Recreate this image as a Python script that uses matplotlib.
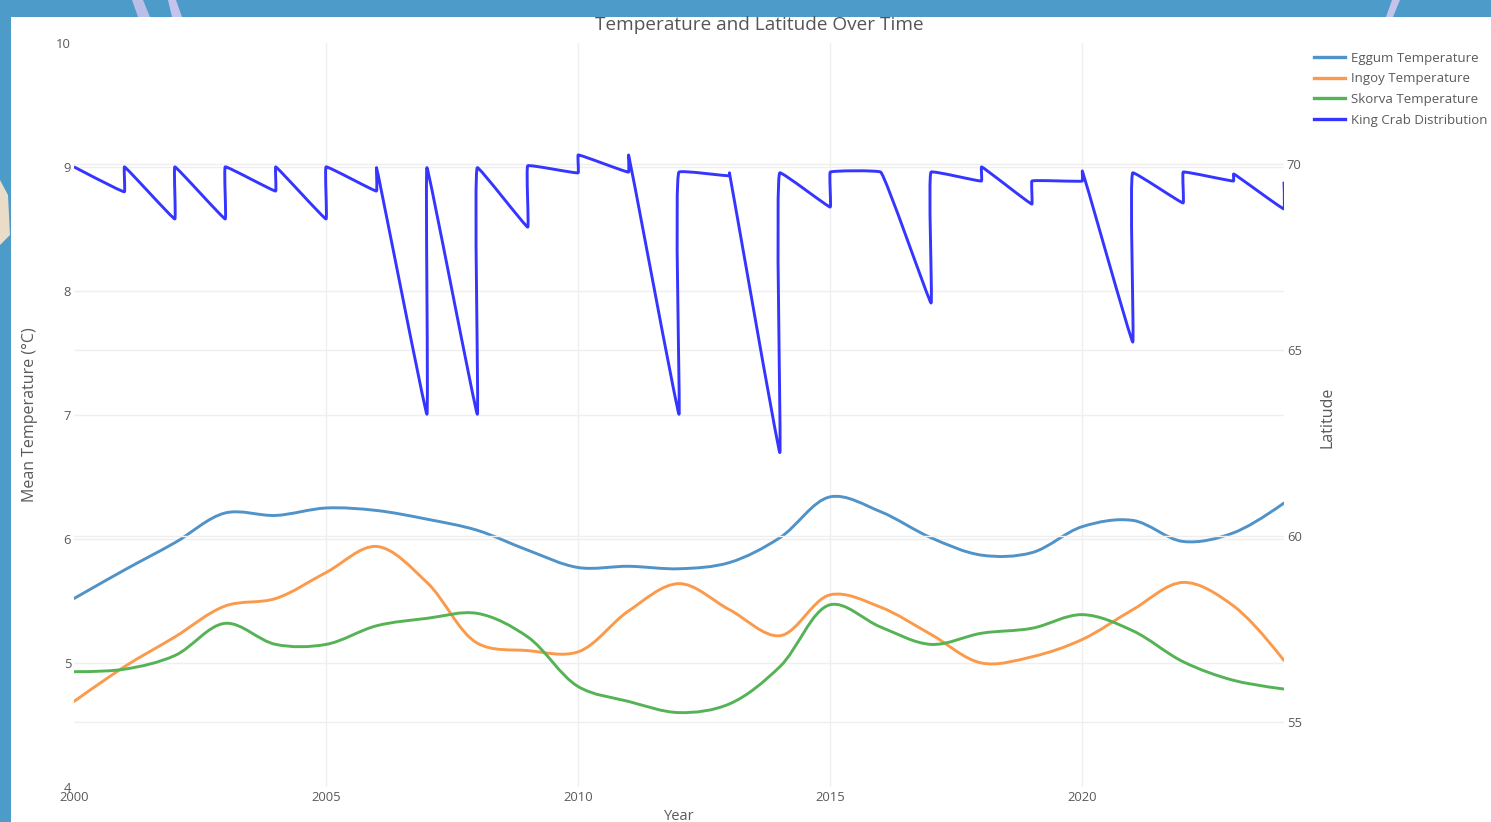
import matplotlib
matplotlib.use("Agg")
import matplotlib.pyplot as plt
import numpy as np
from matplotlib.path import Path
from matplotlib.patches import PathPatch, Rectangle, Polygon
from matplotlib.lines import Line2D

# ---- data ----
years = list(range(2000, 2025))

eggum_temp = [5.52, 5.75, 5.97, 6.21, 6.19, 6.25, 6.23, 6.16, 6.07, 5.91, 5.77, 5.78, 5.76,
              5.81, 6.01, 6.34, 6.22, 6.01, 5.87, 5.89, 6.10, 6.15, 5.98, 6.05, 6.29]
ingoy_temp = [4.69, 4.97, 5.21, 5.46, 5.52, 5.73, 5.94, 5.65, 5.16, 5.10, 5.09, 5.42, 5.64,
              5.43, 5.22, 5.55, 5.45, 5.23, 5.00, 5.05, 5.19, 5.43, 5.65, 5.46, 5.02]
skorva_temp = [4.93, 4.95, 5.06, 5.32, 5.15, 5.15, 5.30, 5.36, 5.40, 5.21, 4.81, 4.69, 4.60,
               4.67, 4.97, 5.47, 5.29, 5.15, 5.24, 5.28, 5.39, 5.26, 5.01, 4.86, 4.79]

crab_years = [2000, 2001, 2001, 2002, 2002, 2003, 2003, 2004, 2004, 2005, 2005, 2006, 2006,
              2007, 2007, 2008, 2008, 2009, 2009, 2010, 2010, 2011, 2011, 2012, 2012, 2013,
              2013, 2014, 2014, 2015, 2015, 2016, 2017, 2017, 2018, 2018, 2019, 2019, 2020,
              2020, 2021, 2021, 2022, 2022, 2023, 2023, 2024, 2024]
crab_lat = [69.92, 69.25, 69.92, 68.52, 69.92, 68.52, 69.92, 69.27, 69.92, 68.52, 69.92, 69.27,
            69.90, 63.27, 69.90, 63.27, 69.90, 68.30, 69.95, 69.76, 70.24, 69.78, 70.24, 63.27,
            69.78, 69.68, 69.76, 62.24, 69.76, 68.84, 69.78, 69.78, 66.26, 69.78, 69.54, 69.92,
            68.92, 69.54, 69.54, 69.81, 65.21, 69.76, 68.95, 69.78, 69.54, 69.73, 68.79, 69.52]

series_names = ["Eggum Temperature", "Ingoy Temperature", "Skorva Temperature",
                "King Crab Distribution"]
colors = ["#4f93c9", "#fb9a4b", "#55b355", "#3535ff"]


def spline_path(xs, ys, sx, sy, smoothing=1.0):
    # plotly-style catmull-rom spline, computed in pixel-like units
    pts = np.column_stack([np.asarray(xs, float) * sx, np.asarray(ys, float) * sy])
    n = len(pts)
    tang = []
    for i in range(1, n - 1):
        d1 = pts[i - 1] - pts[i]
        d2 = pts[i + 1] - pts[i]
        d1a = np.hypot(*d1) ** 0.5
        d2a = np.hypot(*d2) ** 0.5
        num = (d2a * d2a * d1 - d1a * d1a * d2) * smoothing
        den1 = 3 * d2a * (d1a + d2a)
        den2 = 3 * d1a * (d1a + d2a)
        t0 = pts[i] + (num / den1 if den1 else 0)
        t1 = pts[i] - (num / den2 if den2 else 0)
        tang.append((t0, t1))
    verts = [pts[0], tang[0][0], pts[1]]
    codes = [Path.MOVETO, Path.CURVE3, Path.CURVE3]
    for i in range(2, n - 1):
        verts += [tang[i - 2][1], tang[i - 1][0], pts[i]]
        codes += [Path.CURVE4] * 3
    verts += [tang[n - 3][1], pts[n - 1]]
    codes += [Path.CURVE3] * 2
    verts = np.array(verts) / [sx, sy]
    return Path(verts, codes)


plt.rcParams['font.family'] = ['Open Sans', 'DejaVu Sans']
W, H = 1491, 822
fig = plt.figure(figsize=(W / 100, H / 100), dpi=100, facecolor="#4d9bc8")

# white card over the blue background
fig.patches.append(Rectangle((11 / W, 0), 1 - 11 / W, (H - 17) / H, transform=fig.transFigure,
                             facecolor="white", edgecolor="none", zorder=-3))
# a few light streaks of the background texture
blob = dict(closed=True, transform=fig.transFigure, edgecolor="none", zorder=-2)
fig.patches.append(Polygon([(132 / W, 1), (138 / W, 1 - 17 / H), (150 / W, 1 - 17 / H),
                            (143 / W, 1)], facecolor="#b9bfe6", **blob))
fig.patches.append(Polygon([(168 / W, 1), (172 / W, 1 - 17 / H), (182 / W, 1 - 17 / H),
                            (176 / W, 1)], facecolor="#c4c3ec", **blob))
fig.patches.append(Polygon([(1392 / W, 1), (1386 / W, 1 - 17 / H), (1393 / W, 1 - 17 / H),
                            (1400 / W, 1)], facecolor="#c4c3ec", **blob))
fig.patches.append(Polygon([(0, 1 - 180 / H), (8 / W, 1 - 195 / H), (10 / W, 1 - 235 / H),
                            (0, 1 - 245 / H)], facecolor="#e9dcc8", **blob))

ax = fig.add_axes([74 / W, (H - 787) / H, 1210 / W, 744 / H])
ax.patch.set_alpha(0)
ax2 = ax.twinx()

# x: 50.4 px/yr, left y: 124 px/degC, right y: 37.2 px/deg lat
for vals, c in zip([eggum_temp, ingoy_temp, skorva_temp], colors[:3]):
    ax.add_patch(PathPatch(spline_path(years, vals, 50.4, 124.0), facecolor="none",
                           edgecolor=c, lw=2.1, zorder=3, capstyle="round", joinstyle="round"))
ax2.add_patch(PathPatch(spline_path(crab_years, crab_lat, 50.4, 37.2, smoothing=0.2),
                        facecolor="none", edgecolor=colors[3], lw=2.1, zorder=3,
                        joinstyle="round"))

ax.set_xlim(2000, 2024)
ax.set_ylim(4, 10)
ax2.set_ylim(53.25, 73.25)
ax.set_xticks([2000, 2005, 2010, 2015, 2020])
ax.set_yticks([4, 5, 6, 7, 8, 9, 10])
ax2.set_yticks([55, 60, 65, 70])

grid_kw = dict(color="#efefef", lw=1.0)
ax.grid(True, axis="both", **grid_kw)
ax2.grid(True, axis="y", **grid_kw)
ax.set_axisbelow(True)
ax2.set_axisbelow(True)
gl = ax.yaxis.get_gridlines()
gl[0].set_visible(False)
gl[-1].set_visible(False)
ax.xaxis.get_gridlines()[0].set_visible(False)

txt = "#5a5a5a"
for a in (ax, ax2):
    for s in a.spines.values():
        s.set_visible(False)
    a.tick_params(length=0, labelsize=9.4, labelcolor=txt)
ax.tick_params(axis="y", pad=2)
ax.tick_params(axis="x", pad=3)
ax2.tick_params(axis="y", pad=2)

ax.set_xlabel("Year", fontsize=10.5, color=txt)
ax.xaxis.set_label_coords(0.5, -0.030)
ax.set_ylabel("Mean Temperature (°C)", fontsize=11.5, color=txt)
ax.yaxis.set_label_coords(-0.0300, 0.5)
ax2.set_ylabel("Latitude", fontsize=11.5, color=txt)
ax2.yaxis.set_label_coords(1.0295, 0.497)

fig.suptitle("Temperature and Latitude Over Time", x=759 / W, y=1 - 25 / H, va="center",
             fontsize=13.7, color="#555555")

handles = [Line2D([], [], color=c, lw=2.4) for c in colors]
fig.legend(handles, series_names, loc="upper left", bbox_to_anchor=(1311 / W, 1 - 49 / H),
           frameon=False, fontsize=9.5, labelcolor=txt, handlelength=2.4, handletextpad=0.4,
           labelspacing=0.58, borderaxespad=0, borderpad=0.2)

fig.savefig("out.png", dpi=100, facecolor=fig.get_facecolor())
